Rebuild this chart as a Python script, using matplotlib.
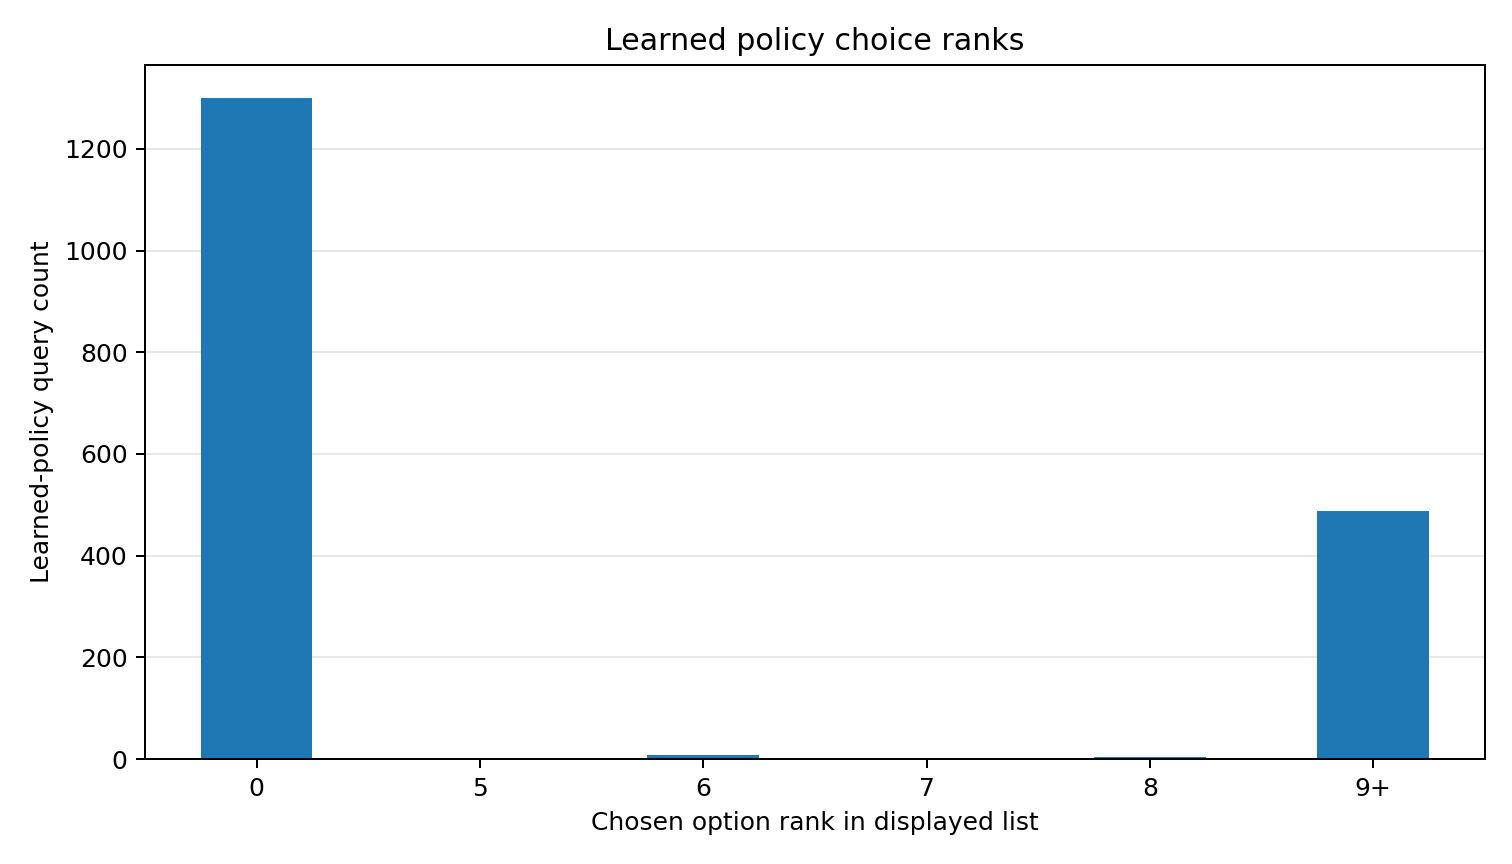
import matplotlib.pyplot as plt

ranks = ['0', '5', '6', '7', '8', '9+']
counts = [1300, 1, 7, 1, 3, 488]

fig, ax = plt.subplots(figsize=(8.4, 4.8), dpi=180)
ax.bar(ranks, counts, width=0.5, color='#1f77b4', zorder=2)
ax.set_xlim(-0.5, len(ranks) - 0.5)
ax.yaxis.grid(True, alpha=0.3, zorder=0)
ax.set_axisbelow(True)
ax.set_title('Learned policy choice ranks')
ax.set_xlabel('Chosen option rank in displayed list')
ax.set_ylabel('Learned-policy query count')
fig.subplots_adjust(left=0.0959, right=0.982, top=0.9248, bottom=0.1215)
fig.savefig('out.png')
